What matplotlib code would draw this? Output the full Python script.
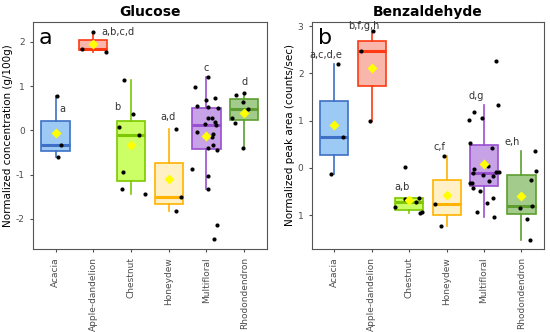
import numpy as np
import matplotlib.pyplot as plt

# Honey types (x categories)
categories = ['Acacia', 'Apple-dandelion', 'Chestnut', 'Honeydew', 'Multifloral', 'Rhodondendron']

# Glucose, normalized concentration per sample
glucose = [
    [0.77, -0.34, -0.60],
    [2.23, 1.84, 1.77],
    [1.13, 0.36, 0.07, -0.11, -0.95, -1.32, -1.43],
    [0.02, -1.50, -1.82],
    [0.98, 1.20, 0.68, 0.74, 0.55, 0.52, 0.27, 0.27, 0.50, 0.15, 0.18, -0.03,
     0.13, -0.09, -0.14, -0.39, -0.34, -0.45, -0.88, -1.03, -1.32, -2.13, -2.45],
    [0.85, 0.79, 0.64, 0.48, 0.29, 0.16, -0.39],
]
# Benzaldehyde, normalized peak area per sample
benzaldehyde = [
    [2.19, 0.66, -0.13],
    [2.89, 2.47, 0.99],
    [0.01, -0.64, -0.66, -0.72, -0.83, -0.94, -0.96],
    [0.25, -0.77, -1.23],
    [2.26, 1.34, 1.19, 1.02, 1.06, 0.53, 0.42, 0.04, -0.02, -0.10, -0.15, -0.18,
     -0.08, -0.09, -0.33, -0.33, -0.42, -0.29, -0.49, -0.63, -0.75, -0.94, -1.04],
    [0.36, -0.06, -0.26, -0.80, -0.86, -1.09, -1.52],
]

# horizontal jitter of the dots
glucose_jitter = [
    [0.03, 0.13, 0.05],
    [-0.02, -0.30, 0.34],
    [-0.18, 0.04, -0.33, 0.22, -0.20, -0.23, 0.36],
    [0.19, 0.33, 0.20],
    [-0.29, 0.04, 0.00, 0.23, -0.26, 0.05, 0.16, 0.04, 0.31, -0.04, 0.24, -0.26,
     0.26, 0.18, 0.14, 0.04, 0.18, 0.28, -0.37, 0.05, 0.04, 0.28, 0.20],
    [0.00, -0.22, -0.03, 0.11, -0.33, -0.23, -0.03],
]
benz_jitter = [
    [0.11, 0.23, -0.09],
    [0.04, -0.28, -0.04],
    [-0.11, 0.25, -0.11, 0.18, -0.38, 0.35, 0.28],
    [-0.07, -0.32, -0.16],
    [0.32, 0.36, -0.27, -0.39, -0.05, -0.37, 0.20, 0.10, -0.28, -0.30, -0.04, 0.23,
     0.32, 0.39, -0.37, -0.32, -0.30, 0.12, -0.10, 0.23, 0.07, -0.18, 0.26],
    [0.35, 0.39, 0.25, 0.28, -0.04, 0.15, 0.24],
]

# significance letters and where they sit
glucose_letters = ['a', 'a,b,c,d', 'b', 'a,d', 'c', 'd']
glucose_letter_xy = [(1.18, 0.48), (2.66, 2.22), (2.63, 0.52), (3.97, 0.30), (5.0, 1.40), (6.0, 1.10)]
benz_letters = ['a,c,d,e', 'b,f,g,h', 'a,b', 'c,f', 'd,g', 'e,h']
benz_letter_xy = [(0.76, 2.38), (1.79, 3.0), (2.82, -0.40), (3.82, 0.43), (4.79, 1.53), (5.76, 0.55)]

edge_colors = ['#3d70c6', '#ff3a12', '#7dc800', '#ffb300', '#9a4fd0', '#5e9e30']
fill_colors = ['#9ccaf4', '#f9b6aa', '#ccff66', '#fff0c6', '#c8a2e6', '#a3cb8c']

plt.rcParams['font.family'] = 'DejaVu Sans'
fig = plt.figure(figsize=(5.5, 3.32), dpi=100)
ax1 = fig.add_axes([0.06, 0.25, 0.425, 0.684])
ax2 = fig.add_axes([0.567, 0.25, 0.422, 0.684])


def draw_panel(ax, data, jitter, letters, letter_xy, title, ylabel, panel, ylim, yticks, yticklabels):
    pos = np.arange(1, len(categories) + 1)
    bp = ax.boxplot(data, positions=pos, widths=0.75, patch_artist=True,
                    showfliers=False, whis=1.5, manage_ticks=False)
    for i in range(len(data)):
        ec, fc = edge_colors[i], fill_colors[i]
        bp['boxes'][i].set(facecolor=fc, edgecolor=ec, linewidth=1.2)
        bp['medians'][i].set(color=ec, linewidth=2.2)
        for ln in bp['whiskers'][2 * i:2 * i + 2]:
            ln.set(color=ec, linewidth=1.2)
        for ln in bp['caps'][2 * i:2 * i + 2]:
            ln.set_visible(False)
    for i, vals in enumerate(data):
        xs = pos[i] + np.array(jitter[i])
        ax.scatter(xs, vals, s=9, color='black', zorder=4, linewidths=0)
        ax.scatter(pos[i], np.mean(vals), marker='D', s=26, color='#ffff00',
                   zorder=5, linewidths=0)
    for txt, (x, y) in zip(letters, letter_xy):
        ax.text(x, y, txt, ha='center', va='center', fontsize=7, color='#333333')
    ax.set_xlim(0.4, 6.6)
    ax.set_ylim(*ylim)
    ax.set_yticks(yticks)
    ax.set_yticklabels(yticklabels)
    ax.set_xticks(pos)
    ax.set_xticklabels(categories, rotation=90)
    ax.tick_params(axis='both', labelsize=6.5, colors='#4d4d4d', length=2.5, width=0.8)
    ax.set_ylabel(ylabel, fontsize=7.5, labelpad=2)
    ax.set_title(title, fontsize=10, fontweight='bold', pad=4)
    for sp in ax.spines.values():
        sp.set_color('#555555')
        sp.set_linewidth(0.8)
    ax.text(0.025, 0.975, panel, transform=ax.transAxes, fontsize=16,
            ha='left', va='top')


draw_panel(ax1, glucose, glucose_jitter, glucose_letters, glucose_letter_xy,
           'Glucose', 'Normalized concentration (g/100g)', 'a',
           (-2.68, 2.45), [2, 1, 0, -1, -2], ['2', '1', '0', '-1', '-2'])
draw_panel(ax2, benzaldehyde, benz_jitter, benz_letters, benz_letter_xy,
           'Benzaldehyde', 'Normalized peak area (counts/sec)', 'b',
           (-1.72, 3.09), [3, 2, 1, 0, -1], ['3', '2', '1', '0', '1'])

fig.savefig('out.png', dpi=100)
